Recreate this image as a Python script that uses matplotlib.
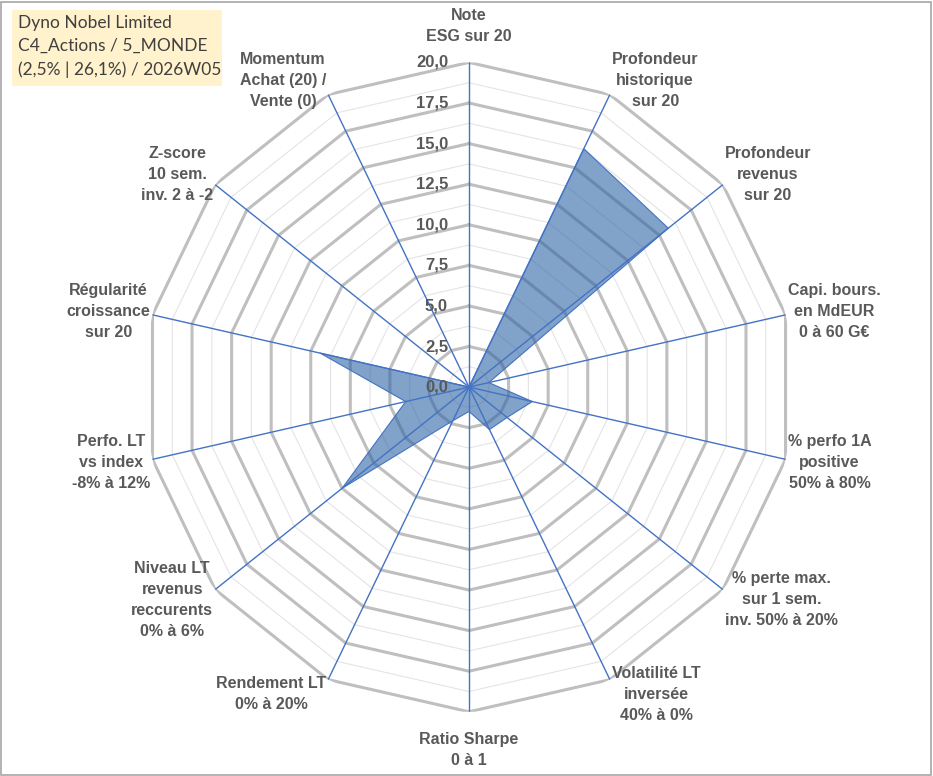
import numpy as np
import matplotlib.pyplot as plt
from matplotlib.patches import Rectangle

plt.rcParams['font.family'] = ['Liberation Sans', 'DejaVu Sans']

# axes of the radar, clockwise from top
axis_labels = [
    "Note\nESG sur 20",
    "Profondeur\nhistorique\nsur 20",
    "Profondeur\nrevenus\nsur 20",
    "Capi. bours.\nen MdEUR\n0 à 60 G€",
    "% perfo 1A\npositive\n50% à 80%",
    "% perte max.\nsur 1 sem.\ninv. 50% à 20%",
    "Volatilité LT\ninversée\n40% à 0%",
    "Ratio Sharpe\n0 à 1",
    "Rendement LT\n0% à 20%",
    "Niveau LT\nrevenus\nreccurents\n0% à 6%",
    "Perfo. LT\nvs index\n-8% à 12%",
    "Régularité\ncroissance\nsur 20",
    "Z-score\n10 sem.\ninv. 2 à -2",
    "Momentum\nAchat (20) /\nVente (0)",
]
scores = [0, 16.3, 15.7, 1.25, 4.0, 3.0, 2.9, 1.5, 2.3, 10.0, 4.0, 9.4, 0, 0]
major_ticks = np.arange(0, 20.01, 2.5)
minor_ticks = np.arange(1.25, 20, 2.5)
tick_labels = [f"{t:.1f}".replace(".", ",") for t in major_ticks]
title_lines = ["Dyno Nobel Limited", "C4_Actions / 5_MONDE", "(2,5% | 26,1%) / 2026W05"]

n = len(axis_labels)
theta = np.arange(n) * 2 * np.pi / n
theta_closed = np.append(theta, theta[0])

fig = plt.figure(figsize=(9.33, 7.76), dpi=100)
ax = fig.add_axes([0.1547, 0.0827, 0.696, 0.8369], projection='polar')
ax.set_theta_zero_location('N')
ax.set_theta_direction(-1)
ax.set_ylim(0, 20)
ax.grid(False)
ax.spines['polar'].set_visible(False)
ax.set_xticks([])
ax.set_yticks([])
ax.patch.set_alpha(0)

# polygon grid
for r in minor_ticks:
    ax.plot(theta_closed, [r] * (n + 1), color='#E4E4E4', lw=0.8, zorder=1)
for r in major_ticks[1:]:
    ax.plot(theta_closed, [r] * (n + 1), color='#BFBFBF', lw=2.2, zorder=1)

# data
vals = np.append(scores, scores[0])
ax.fill(theta_closed, vals, color='#2E64A5', alpha=0.6, lw=0, zorder=2)
ax.plot(theta_closed, vals, color='#4472C4', lw=0.8, zorder=3)

# spokes
for t in theta:
    ax.plot([t, t], [0, 20], color='#4472C4', lw=1.0, zorder=4)

# radial tick labels
for t, lab in zip(major_ticks, tick_labels):
    ax.annotate(lab, xy=(0, t), xytext=(-21, 0), textcoords='offset pixels',
                ha='right', va='center', fontsize=12, fontweight='bold',
                color='#595959', zorder=5)

# axis labels
for t, lab in zip(theta, axis_labels):
    s, c = np.sin(t), np.cos(t)
    if abs(s) < 0.01:
        ha = 'center'
        va = 'bottom' if c > 0 else 'top'
        off = (0, 18) if c > 0 else (0, -20)
    else:
        ha = 'left' if s > 0 else 'right'
        va = 'center'
        off = (2 * np.sign(s), 16 * c)
    ax.annotate(lab, xy=(t, 20), xytext=off, textcoords='offset pixels',
                ha=ha, va=va, multialignment='center', fontsize=11.5,
                fontweight='bold', color='#595959', linespacing=1.5,
                annotation_clip=False)

# title box
W, H = 933, 776
fig.patches.append(Rectangle((12 / W, 1 - 86 / H), 210 / W, 76 / H,
                             transform=fig.transFigure, facecolor='#FFF2CC',
                             edgecolor='none', zorder=0))
fig.text(18 / W, 1 - 15 / H, "\n".join(title_lines), ha='left', va='top',
         fontsize=12.5, color='#404040', family=['Lato', 'DejaVu Sans'],
         linespacing=1.55)

# frame
fig.patches.append(Rectangle((1 / W, 1 / H), (W - 3) / W, (H - 3) / H,
                             transform=fig.transFigure, facecolor='none',
                             edgecolor='#A6A6A6', lw=1.2))

fig.savefig('out.png', dpi=100)
